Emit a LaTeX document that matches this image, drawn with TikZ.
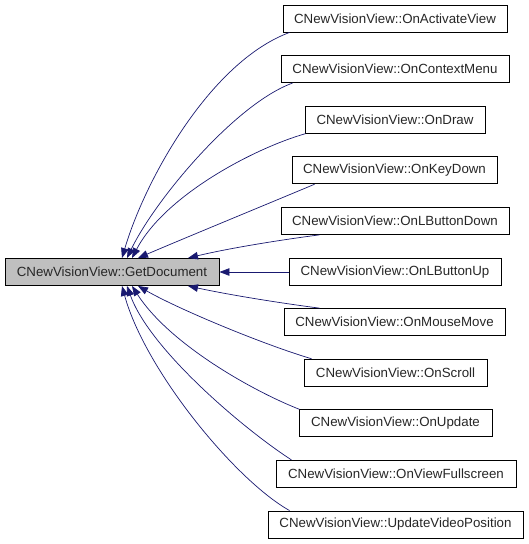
\documentclass[tikz,border=0pt]{standalone}
\usepackage{fontspec}
\setmainfont{Liberation Sans}
\usetikzlibrary{arrows.meta}
\definecolor{edgeblue}{HTML}{191970}
\definecolor{maingray}{HTML}{BFBFBF}
\begin{document}
\begin{tikzpicture}[x=1pt,y=-1pt,
  fn/.style={draw=black, line width=0.9pt, minimum height=27pt, inner sep=0pt,
    font=\fontsize{13.3}{15}\selectfont, text=black!85},
  mainfn/.style={fn, fill=maingray},
  callarrow/.style={draw=edgeblue, line width=0.7pt,
    -{Triangle[length=10pt,width=7.5pt,fill=edgeblue]}}]
\useasboundingbox (0,0) rectangle (528,544);

\node[mainfn, minimum width=214pt] (main) at (112,272) {CNewVisionView::GetDocument};

\node[fn, minimum width=224pt] (n1) at (395,18.5) {CNewVisionView::OnActivateView};
\node[fn, minimum width=228pt] (n2) at (395,69.1) {CNewVisionView::OnContextMenu};
\node[fn, minimum width=180pt] (n3) at (395,119.7) {CNewVisionView::OnDraw};
\node[fn, minimum width=205pt] (n4) at (394.5,170.3) {CNewVisionView::OnKeyDown};
\node[fn, minimum width=228pt] (n5) at (395,220.9) {CNewVisionView::OnLButtonDown};
\node[fn, minimum width=212pt] (n6) at (395,272) {CNewVisionView::OnLButtonUp};
\node[fn, minimum width=221pt] (n7) at (394.5,322.1) {CNewVisionView::OnMouseMove};
\node[fn, minimum width=183pt] (n8) at (395.5,372.7) {CNewVisionView::OnScroll};
\node[fn, minimum width=193pt] (n9) at (395.5,423.3) {CNewVisionView::OnUpdate};
\node[fn, minimum width=240pt] (n10) at (396,473.9) {CNewVisionView::OnViewFullscreen};
\node[fn, minimum width=255pt] (n11) at (395.5,524.5) {CNewVisionView::UpdateVideoPosition};

% upper group
\draw[callarrow] ([xshift=7pt]n1.south west) .. controls (210,62) and (145,180) .. ([xshift=10pt]main.north);
\draw[callarrow] ([xshift=12pt]n2.south west) .. controls (235,104) and (155,200) .. ([xshift=15pt]main.north);
\draw[callarrow] ([xshift=1pt]n3.south west) .. controls (255,148) and (165,195) .. ([xshift=20pt]main.north);
\draw[callarrow] ([xshift=23pt]n4.south west) .. controls (265,205) and (180,240) .. ([xshift=26pt]main.north);
\draw[callarrow] ([xshift=39pt]n5.south west) .. controls (280,240) and (230,248) .. ([xshift=76pt]main.north);
% straight
\draw[callarrow] (n6.west) -- (main.east);
% lower group
\draw[callarrow] ([xshift=36pt]n7.north west) .. controls (280,303) and (230,295) .. ([xshift=76pt]main.south);
\draw[callarrow] ([xshift=8pt]n8.north west) .. controls (265,345) and (180,310) .. ([xshift=26pt]main.south);
\draw[callarrow] ([xshift=1pt]n9.north west) .. controls (255,392) and (170,345) .. ([xshift=20pt]main.south);
\draw[callarrow] ([xshift=16pt]n10.north west) .. controls (245,430) and (150,350) .. ([xshift=15pt]main.south);
\draw[callarrow] ([xshift=22pt]n11.north west) .. controls (235,480) and (145,370) .. ([xshift=10pt]main.south);
\end{tikzpicture}
\end{document}
